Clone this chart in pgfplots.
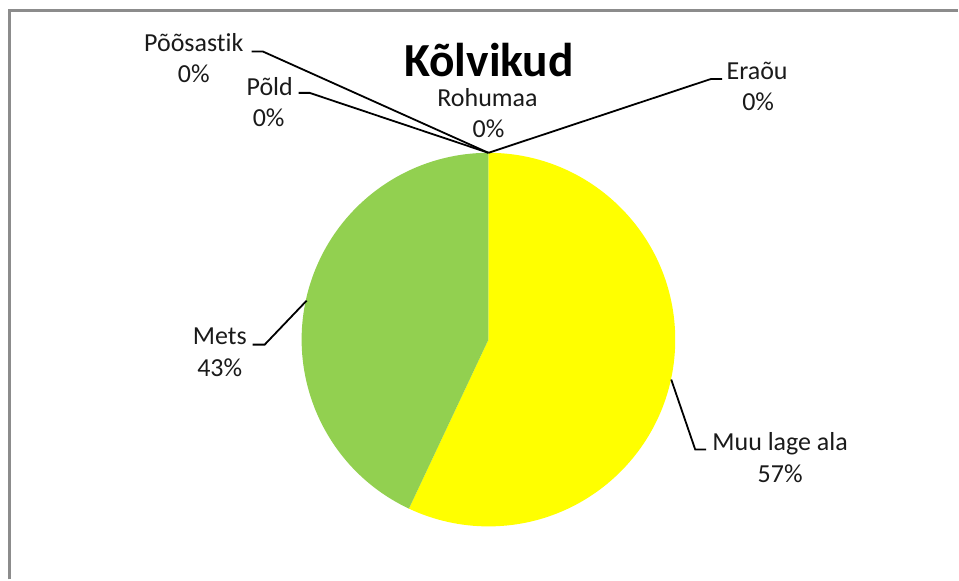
\documentclass[border=0pt]{standalone}
\usepackage{pgfplots}
\pgfplotsset{compat=1.18}
\usepackage{pgfplotstable}
\usepackage{fontspec}
\setmainfont{Carlito}[Ligatures=NoCommon]
\definecolor{pieyellow}{HTML}{FFFF00}
\definecolor{piegreen}{HTML}{92D050}
\definecolor{framegray}{HTML}{8C8C8C}
\definecolor{lbl}{HTML}{1A1A1A}

\pgfplotstableread[col sep=comma]{
label,value
Muu lage ala,57
Mets,43
Põld,0
Põõsastik,0
Rohumaa,0
Eraõu,0
}\slices

\begin{document}
\begin{tikzpicture}
\pgfplotstablegetelem{0}{value}\of\slices \let\va\pgfplotsretval
\pgfplotstablegetelem{1}{value}\of\slices \let\vb\pgfplotsretval
\pgfmathsetmacro\aA{90-3.6*\va}
\pgfmathsetmacro\aB{\aA-3.6*\vb}
\begin{axis}[at={(0,0)},anchor=south west,
  width=959bp,height=580bp,scale only axis,hide axis,
  xmin=0,xmax=959,ymin=0,ymax=580,y dir=reverse,clip=false]
\path (axis cs:0,0) rectangle (axis cs:959,580);
% frame
\draw[framegray,line width=2.2bp] (axis cs:9.5,580) -- (axis cs:9.5,10.5) -- (axis cs:959,10.5);
% pie slices
\fill[pieyellow] (axis cs:489,340) -- ++(90:187bp) arc[start angle=90,end angle=\aA,radius=187bp] -- cycle;
\fill[piegreen] (axis cs:489,340) -- ++(\aA:187bp) arc[start angle=\aA,end angle=\aB,radius=187bp] -- cycle;
% leader lines
\begin{scope}[line width=1.8bp,black]
\draw (axis cs:672,380) -- (axis cs:696,450) -- (axis cs:707,450);
\draw (axis cs:307,301) -- (axis cs:265,345) -- (axis cs:253,345);
\draw (axis cs:489,153) -- (axis cs:712,79) -- (axis cs:723,79);
\draw (axis cs:489,153) -- (axis cs:310,93) -- (axis cs:299,93);
\draw (axis cs:489,153) -- (axis cs:263,51.5) -- (axis cs:252,51.5);
\end{scope}
% labels
\begin{scope}[every node/.style={anchor=base,inner sep=0pt,text=lbl,font=\fontsize{26bp}{31bp}\selectfont}]
\node at (axis cs:781,451) {Muu lage ala};
\node at (axis cs:781,483) {57\%};
\node at (axis cs:220,345) {Mets};
\node at (axis cs:220,377) {43\%};
\node at (axis cs:758,80) {Eraõu};
\node at (axis cs:759,111) {0\%};
\node at (axis cs:488,107) {Rohumaa};
\node at (axis cs:489,138) {0\%};
\node at (axis cs:270,96) {Põld};
\node at (axis cs:269,127) {0\%};
\node at (axis cs:194,52) {Põõsastik};
\node at (axis cs:194,83) {0\%};
\end{scope}
\node[anchor=base,inner sep=0pt,font=\bfseries\fontsize{47.5bp}{56bp}\selectfont] at (axis cs:489.5,77) {Kõlvikud};
\end{axis}
\end{tikzpicture}
\end{document}
